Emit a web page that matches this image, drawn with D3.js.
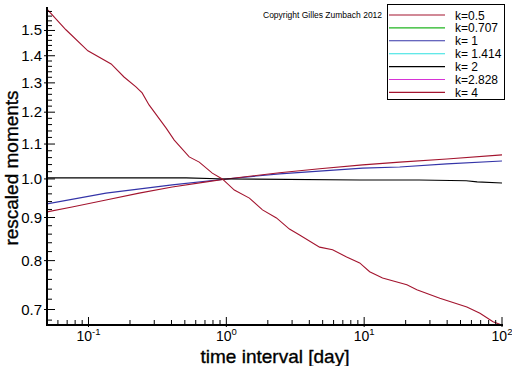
<!DOCTYPE html>
<html>
<head>
<meta charset="utf-8">
<script src="https://cdn.jsdelivr.net/npm/d3@7"></script>
<style>
  html, body { margin: 0; padding: 0; background: #fff; }
  svg { display: block; font-family: "Liberation Sans", Arial, sans-serif; }
</style>
</head>
<body>
<svg id="chart" width="512" height="366"></svg>
<script>
// ---- data ----
const legendLabels = ["k=0.5", "k=0.707", "k= 1", "k= 1.414", "k= 2", "k=2.828", "k= 4"];
const legendColors = ["#a3142e", "#1fb51f", "#3434a8", "#2ee0e0", "#000000", "#d633d6", "#a3142e"];

const xMajorTicks = [0.1, 1, 10, 100];
const xMajorExp = ["-1", "0", "1", "2"];
const yMajorTicks = [0.7, 0.8, 0.9, 1.0, 1.1, 1.2, 1.3, 1.4, 1.5];

// k=0.5 (increasing red)
const k05x = [0.05, 0.076, 0.134, 0.233, 0.405, 0.716, 1.0, 2.43, 4.75, 9.75, 18.1, 39.8, 100];
const k05y = [0.914, 0.926, 0.944, 0.962, 0.978, 0.992, 1.0, 1.017, 1.028, 1.039, 1.047, 1.056, 1.068];
// k=1 (blue)
const k1x = [0.05, 0.134, 0.405, 1.0, 2.43, 9.75, 18.1, 39.8, 100];
const k1y = [0.934, 0.962, 0.984, 1.0, 1.014, 1.030, 1.033, 1.042, 1.050];
// k=2 (black)
const k2x = [0.05, 0.51, 1.0, 9.3, 25, 55, 66, 100];
const k2y = [1.003, 1.003, 1.0, 0.997, 0.997, 0.995, 0.992, 0.989];
// k=4 (decreasing red)
const k4x = [0.05, 0.0686, 0.099, 0.146, 0.181, 0.221, 0.245, 0.275, 0.366, 0.419, 0.538, 0.636, 0.791, 0.935,
             1.143, 1.47, 1.83, 2.31, 2.87, 3.40, 4.75, 5.90, 7.46, 9.28, 10.96, 13.6, 20.4, 24.1, 35.4, 55.6, 69.2, 86.1, 100];
const k4y = [1.590, 1.503, 1.419, 1.369, 1.321, 1.286, 1.265, 1.224, 1.149, 1.112, 1.062, 1.047, 1.016, 1.0,
             0.970, 0.949, 0.919, 0.899, 0.872, 0.858, 0.830, 0.824, 0.808, 0.795, 0.776, 0.763, 0.749, 0.739, 0.722, 0.705, 0.693, 0.677, 0.671];

const seriesList = [
  { xs: k1x, ys: k1y, color: legendColors[2] },
  { xs: k05x, ys: k05y, color: legendColors[0] },
  { xs: k2x, ys: k2y, color: legendColors[4] },
  { xs: k4x, ys: k4y, color: legendColors[6] }
];

// ---- layout ----
const L = 47, R = 502, T = 8, B = 325;
const svg = d3.select("#chart");
const x = d3.scaleLog().domain([0.05, 100]).range([L, R]);
const y = d3.scaleLog().domain([0.671, 1.595]).range([B, T]);

svg.append("defs").append("clipPath").attr("id", "clip")
  .append("rect").attr("x", L).attr("y", T - 2).attr("width", R - L).attr("height", B - T + 2);

// curves
const line = d3.line().x(d => x(d[0])).y(d => y(d[1]));
const g = svg.append("g").attr("clip-path", "url(#clip)");
seriesList.forEach(s => {
  g.append("path")
    .datum(s.xs.map((v, i) => [v, s.ys[i]]))
    .attr("d", line)
    .attr("fill", "none")
    .attr("stroke", s.color)
    .attr("stroke-width", 1.1);
});

// x axis
const xMinor = [];
[0.01, 0.1, 1, 10].forEach(dec => { for (let m = 2; m <= 9; m++) { const v = m * dec; if (v > 0.05 && v < 100) xMinor.push(v); } });
svg.append("g").selectAll("line.xmin").data(xMinor).join("line")
  .attr("x1", d => x(d)).attr("x2", d => x(d)).attr("y1", B).attr("y2", B - 5)
  .attr("stroke", "#000").attr("stroke-width", 1);
svg.append("g").selectAll("line.xmaj").data(xMajorTicks).join("line")
  .attr("x1", d => x(d)).attr("x2", d => x(d)).attr("y1", B + 2).attr("y2", B - 8)
  .attr("stroke", "#000").attr("stroke-width", 1);
svg.append("line").attr("x1", L - 1).attr("x2", R + 1).attr("y1", B).attr("y2", B)
  .attr("stroke", "#000").attr("stroke-width", 2);

const xl = svg.append("g").selectAll("text").data(xMajorTicks).join("text")
  .attr("x", d => x(d)).attr("y", B + 16)
  .attr("text-anchor", "middle").attr("font-size", 14).attr("fill", "#000");
xl.append("tspan").text("10");
xl.append("tspan").attr("dy", -6).attr("font-size", 9.5).text((d, i) => xMajorExp[i]);

// y axis
const yMinor = [];
for (let v = 68; v <= 158; v += 2) { if (v % 10 !== 0) yMinor.push(v / 100); }
svg.append("g").selectAll("line").data(yMinor).join("line")
  .attr("x1", L).attr("x2", L + 5).attr("y1", d => y(d)).attr("y2", d => y(d))
  .attr("stroke", "#000").attr("stroke-width", 1);
svg.append("g").selectAll("line").data(yMajorTicks).join("line")
  .attr("x1", L - 3).attr("x2", L + 8).attr("y1", d => y(d)).attr("y2", d => y(d))
  .attr("stroke", "#000").attr("stroke-width", 1);
svg.append("line").attr("x1", L).attr("x2", L).attr("y1", T - 1).attr("y2", B + 1)
  .attr("stroke", "#000").attr("stroke-width", 2);
svg.append("g").selectAll("text").data(yMajorTicks).join("text")
  .attr("x", L - 5).attr("y", d => y(d) + 5)
  .attr("text-anchor", "end").attr("font-size", 15).attr("fill", "#000")
  .text(d => d.toFixed(1));

// axis titles
svg.append("text").attr("x", 275).attr("y", 363).attr("text-anchor", "middle")
  .attr("font-size", 19).attr("fill", "#000").attr("stroke", "#000").attr("stroke-width", 0.35)
  .text("time interval [day]");
svg.append("text").attr("transform", "translate(18,168) rotate(-90)").attr("text-anchor", "middle")
  .attr("font-size", 19).attr("fill", "#000").attr("stroke", "#000").attr("stroke-width", 0.35)
  .text("rescaled moments");

// copyright
svg.append("text").attr("x", 263).attr("y", 18).attr("font-size", 8.5).attr("fill", "#000")
  .text("Copyright Gilles Zumbach 2012");

// legend
const lg = svg.append("g");
lg.append("rect").attr("x", 387.5).attr("y", 4.5).attr("width", 117).attr("height", 95)
  .attr("fill", "#fff").attr("stroke", "#000").attr("stroke-width", 1);
legendLabels.forEach((lab, i) => {
  const yy = 15 + i * 12.9;
  lg.append("line").attr("x1", 389).attr("x2", 445).attr("y1", yy).attr("y2", yy)
    .attr("stroke", legendColors[i]).attr("stroke-width", 1.1);
  lg.append("text").attr("x", 455).attr("y", yy + 4.5).attr("font-size", 12).attr("fill", "#000").text(lab);
});
</script>
</body>
</html>
